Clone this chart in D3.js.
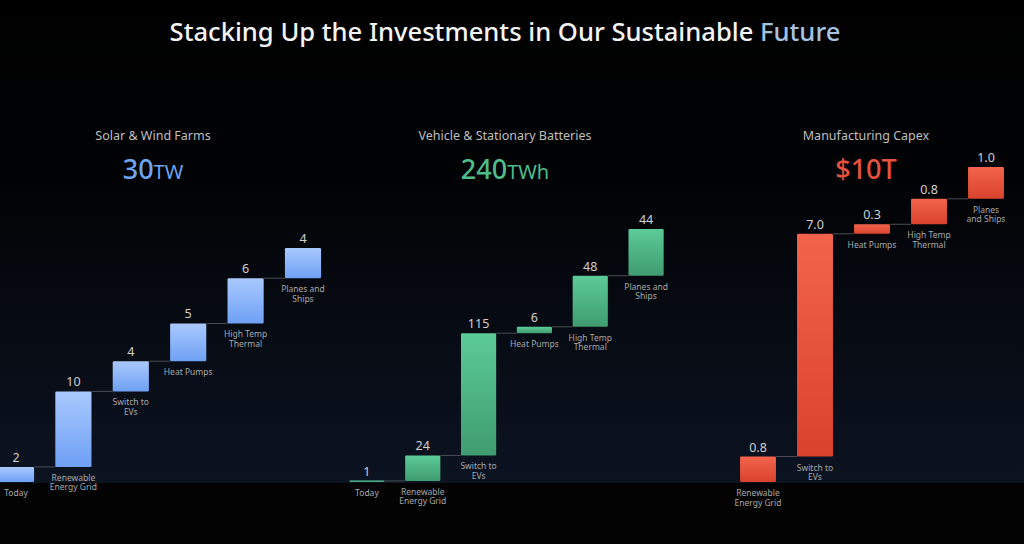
<!DOCTYPE html>
<html>
<head>
<meta charset="utf-8">
<script src="https://cdn.jsdelivr.net/npm/d3@7"></script>
<style>
  html, body { margin: 0; padding: 0; background: #000; overflow: hidden; }
  svg { display: block; font-family: "Noto Sans", "Open Sans", sans-serif; }
</style>
</head>
<body>
<div id="chart"></div>
<script>
// chart values
const titleMain = "Stacking Up the Investments in Our Sustainable ";
const titleAccent = "Future";

const panelTitles = ["Solar & Wind Farms", "Vehicle & Stationary Batteries", "Manufacturing Capex"];
const panelTotals = ["30", "240", "$10T"];
const panelUnits = ["TW", "TWh", ""];

const solarSteps = ["Today", "Renewable\nEnergy Grid", "Switch to\nEVs", "Heat Pumps", "High Temp\nThermal", "Planes and\nShips"];
const solarValues = [2, 10, 4, 5, 6, 4];

const batterySteps = ["Today", "Renewable\nEnergy Grid", "Switch to\nEVs", "Heat Pumps", "High Temp\nThermal", "Planes and\nShips"];
const batteryValues = [1, 24, 115, 6, 48, 44];

const capexSteps = ["Renewable\nEnergy Grid", "Switch to\nEVs", "Heat Pumps", "High Temp\nThermal", "Planes\nand Ships"];
const capexValues = [0.8, 7.0, 0.3, 0.8, 1.0];

// page size
const W = 1024, H = 544;
const floorY = 483;   // where the dark stage ends
const baseY = 482;    // bottom of the bars

const svg = d3.select('#chart').append('svg')
    .attr('width', W)
    .attr('height', H);

const defs = svg.append('defs');

// background: black at the top fading into a dark navy stage
const bg = defs.append('linearGradient')
    .attr('id', 'bg')
    .attr('x1', 0).attr('y1', 0).attr('x2', 0).attr('y2', 1);
bg.append('stop').attr('offset', '0%').attr('stop-color', '#000000');
bg.append('stop').attr('offset', '35%').attr('stop-color', '#010204');
bg.append('stop').attr('offset', '100%').attr('stop-color', '#0c1321');

svg.append('rect').attr('width', W).attr('height', H).attr('fill', '#030303');
svg.append('rect').attr('width', W).attr('height', floorY).attr('fill', 'url(#bg)');

// bar gradients, one per panel
function barGradient(id, top, bottom) {
    const g = defs.append('linearGradient')
        .attr('id', id)
        .attr('x1', 0).attr('y1', 0).attr('x2', 0).attr('y2', 1);
    g.append('stop').attr('offset', '0%').attr('stop-color', top);
    g.append('stop').attr('offset', '100%').attr('stop-color', bottom);
}
barGradient('blueBar', '#a9c9fd', '#6fa0f5');
barGradient('greenBar', '#5ccb97', '#3f9c70');
barGradient('redBar', '#f3634b', '#d9432e');

// title
const title = svg.append('text')
    .attr('x', 505)
    .attr('y', 41)
    .attr('text-anchor', 'middle')
    .attr('font-size', 23)
    .attr('font-weight', 500)
    .attr('fill', '#f4f4f4');
title.append('tspan').text(titleMain);
title.append('tspan').attr('fill', '#a5c2de').text(titleAccent);
// stretch the font so the title spans the same width as the reference
const tw = title.node().getComputedTextLength();
title.attr('font-size', 23 * 671 / tw);

// panels
const panels = [
    { steps: solarSteps, values: solarValues, fmt: d3.format('d'),
      range: [-12.7, 331.7], top: 248, fill: 'url(#blueBar)', color: '#6fa5f0', cx: 153 },
    { steps: batterySteps, values: batteryValues, fmt: d3.format('d'),
      range: [339, 674], top: 229, fill: 'url(#greenBar)', color: '#4fbd8a', cx: 505 },
    { steps: capexSteps, values: capexValues, fmt: d3.format('.1f'),
      range: [729.5, 1014.5], top: 167, fill: 'url(#redBar)', color: '#e6523d', cx: 866 }
];

panels.forEach((p, i) => drawPanel(p, i));

function drawPanel(p, i) {
    const g = svg.append('g');

    // panel heading
    g.append('text')
        .attr('x', p.cx)
        .attr('y', 140)
        .attr('text-anchor', 'middle')
        .attr('font-size', 12.5)
        .attr('fill', '#bfbfbf')
        .text(panelTitles[i]);

    const total = g.append('text')
        .attr('x', p.cx)
        .attr('y', 179)
        .attr('text-anchor', 'middle')
        .attr('fill', p.color);
    total.append('tspan')
        .attr('font-size', 27)
        .attr('font-weight', 500)
        .text(panelTotals[i]);
    total.append('tspan')
        .attr('font-size', 20)
        .attr('font-weight', 400)
        .text(panelUnits[i]);

    // waterfall: each step starts where the previous one ended
    let running = 0;
    const data = p.values.map((v, k) => {
        const d = { step: p.steps[k], value: v, start: running, end: running + v };
        running += v;
        return d;
    });

    const x = d3.scaleBand()
        .domain(p.steps.map((s, k) => k))
        .range(p.range)
        .paddingInner(0.37)
        .paddingOuter(0.185);

    const y = d3.scaleLinear()
        .domain([0, running])
        .range([baseY, p.top]);

    // connectors between bars
    g.selectAll('line.link')
        .data(data.slice(1))
        .join('line')
        .attr('class', 'link')
        .attr('x1', (d, k) => x(k) + x.bandwidth())
        .attr('x2', (d, k) => x(k + 1))
        .attr('y1', d => y(d.start))
        .attr('y2', d => y(d.start))
        .attr('stroke', '#4a4d55')
        .attr('stroke-width', 1);

    // bars
    g.selectAll('rect.bar')
        .data(data)
        .join('rect')
        .attr('class', 'bar')
        .attr('x', (d, k) => x(k))
        .attr('width', x.bandwidth())
        .attr('y', d => Math.min(y(d.end), y(d.start) - 1.5))
        .attr('height', d => Math.max(y(d.start) - y(d.end), 1.5))
        .attr('rx', 1.2)
        .attr('fill', p.fill);

    // value labels above bars
    g.selectAll('text.val')
        .data(data)
        .join('text')
        .attr('class', 'val')
        .attr('x', (d, k) => x(k) + x.bandwidth() / 2)
        .attr('y', d => Math.min(y(d.end), y(d.start) - 1.5) - 5)
        .attr('text-anchor', 'middle')
        .attr('font-size', 12.5)
        .attr('fill', '#d0d0d0')
        .text(d => p.fmt(d.value));

    // step names under bars
    const names = g.selectAll('text.name')
        .data(data)
        .join('text')
        .attr('class', 'name')
        .attr('text-anchor', 'middle')
        .attr('font-size', 8.5)
        .attr('fill', '#a9a9a9');
    names.each(function (d, k) {
        const t = d3.select(this);
        const cx = x(k) + x.bandwidth() / 2;
        d.step.split('\n').forEach((line, j) => {
            t.append('tspan')
                .attr('x', cx)
                .attr('y', y(d.start) + 14 + j * 9.5)
                .text(line);
        });
    });
}
</script>
</body>
</html>
